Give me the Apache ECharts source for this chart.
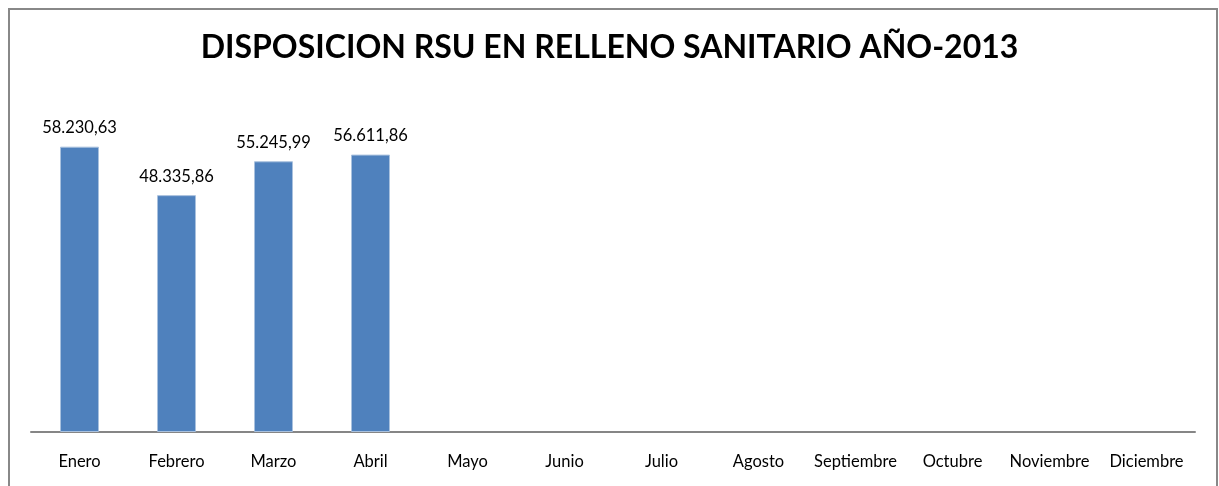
<!DOCTYPE html>
<html>
<head>
<meta charset="utf-8">
<script src="https://cdn.jsdelivr.net/npm/echarts@6/dist/echarts.min.js"></script>
<style>
    html, body { margin: 0; padding: 0; background: #fff; }
    #chart { width: 1219px; height: 486px; }
</style>
</head>
<body>
<div id="chart"></div>
<script>
const titleText = 'DISPOSICION RSU EN RELLENO SANITARIO AÑO-2013';
const months = ['Enero', 'Febrero', 'Marzo', 'Abril', 'Mayo', 'Junio', 'Julio',
    'Agosto', 'Septiembre', 'Octubre', 'Noviembre', 'Diciembre'];
const toneladas = [58230.63, 48335.86, 55245.99, 56611.86, null, null, null,
    null, null, null, null, null];

// formato español: 58.230,63
function fmtEs(v) {
    const parts = v.toFixed(2).split('.');
    const ent = parts[0].replace(/\B(?=(\d{3})+(?!\d))/g, '.');
    return ent + ',' + parts[1];
}

const chart = echarts.init(document.getElementById('chart'));
chart.setOption({
    animation: false,
    title: {
        text: titleText,
        left: 'center',
        top: 27,
        textStyle: {
            fontFamily: 'Lato',
            fontWeight: 'bold',
            fontSize: 32,
            color: '#000'
        }
    },
    graphic: [{
        type: 'rect',
        shape: { x: 9, y: 9, width: 1208, height: 520 },
        style: { fill: 'none', stroke: '#888', lineWidth: 2 }
    }],
    grid: { left: 31, right: 24, top: 89, bottom: 54 },
    xAxis: {
        type: 'category',
        data: months,
        axisTick: { show: false },
        axisLine: { lineStyle: { color: '#868686', width: 2 } },
        axisLabel: {
            color: '#000',
            fontFamily: 'Lato',
            fontSize: 16.5,
            margin: 21,
            interval: 0
        }
    },
    yAxis: {
        type: 'value',
        min: 0,
        max: 70000,
        show: false
    },
    series: [{
        type: 'bar',
        data: toneladas,
        barWidth: 39,
        itemStyle: {
            color: '#4f81bd',
            borderColor: '#a9c1de',
            borderWidth: 1
        },
        label: {
            show: true,
            position: 'top',
            distance: 10,
            color: '#000',
            fontFamily: 'Lato',
            fontSize: 16.5,
            formatter: p => fmtEs(p.value)
        }
    }]
});
</script>
</body>
</html>
